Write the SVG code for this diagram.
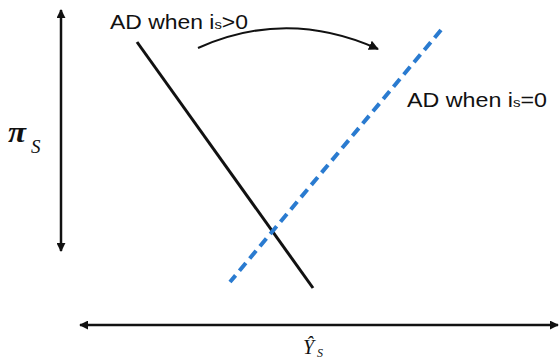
<svg xmlns="http://www.w3.org/2000/svg" width="559" height="360" viewBox="0 0 559 360">
<style>
.lbl{font-family:"Liberation Sans",Arial,sans-serif;font-size:20px;fill:#111}
.math{font-family:"Liberation Serif","Times New Roman",serif;font-style:italic;fill:#111}
.axis{stroke:#111;stroke-width:2.5;fill:none}
</style>
<defs>
<marker id="ah" viewBox="0 0 10 10" refX="9" refY="5" markerWidth="3.6" markerHeight="3.6" orient="auto-start-reverse" markerUnits="strokeWidth">
<path d="M0,0 L10,5 L0,10 Z" fill="#111"/>
</marker>
<marker id="ah2" viewBox="0 0 10 10" refX="9" refY="5" markerWidth="5" markerHeight="5" orient="auto" markerUnits="strokeWidth">
<path d="M0,0 L10,5 L0,10 Z" fill="#111"/>
</marker>
</defs>
<g id="connectors">
<line class="axis" x1="61" y1="251" x2="61" y2="10" marker-start="url(#ah)" marker-end="url(#ah)"/>
<line class="axis" x1="558" y1="325" x2="80" y2="325" marker-start="url(#ah)" marker-end="url(#ah)"/>
<path d="M198,48 Q287,8 378,49" fill="none" stroke="#111" stroke-width="2" marker-end="url(#ah2)"/>
</g>
<g id="ad-positive">
<line x1="137" y1="42" x2="313" y2="288" stroke="#111" stroke-width="3"/>
<text class="lbl" x="110" y="29" textLength="138" lengthAdjust="spacingAndGlyphs">AD when i<tspan font-size="13">s</tspan>&gt;0</text>
</g>
<g id="ad-zero">
<line x1="441" y1="30" x2="230" y2="282" stroke="#2a7bd0" stroke-width="4" stroke-dasharray="10,6"/>
<text class="lbl" x="407" y="107" textLength="140" lengthAdjust="spacingAndGlyphs">AD when i<tspan font-size="13">s</tspan>=0</text>
</g>
<g id="y-label">
<text class="math" x="8" y="142" font-size="30" font-weight="bold" textLength="18" lengthAdjust="spacingAndGlyphs">π</text>
<text class="math" x="31" y="153" font-size="19">S</text>
</g>
<g id="x-label">
<text class="math" x="303" y="354" font-size="20">Ŷ</text>
<text class="math" x="317" y="357" font-size="12">S</text>
</g>
</svg>
